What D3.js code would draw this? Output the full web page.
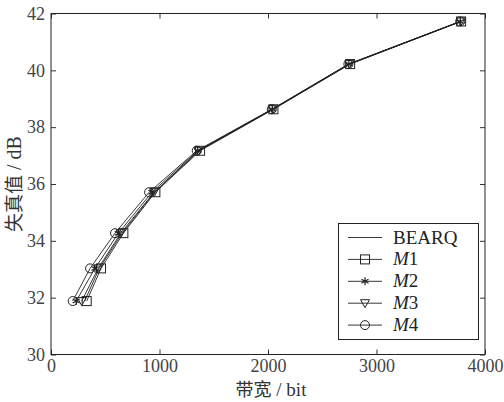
<!DOCTYPE html>
<html lang="zh">
<head>
    <meta charset="UTF-8">
    <title>失真值</title>
    <script src="https://cdnjs.cloudflare.com/ajax/libs/d3/7.8.5/d3.min.js"></script>
    <style type="text/css">
        body { margin: 0; background: #fff; }
        svg text { font-family: "Liberation Serif", "DejaVu Serif", serif; }
        .tick text { fill: #444; }
        .cjk { font-family: "Noto Sans CJK SC", sans-serif; }
    </style>
</head>
<body>
<div class="container"></div>
</body>
<script>
    const xTicks = [0, 1000, 2000, 3000, 4000];
    const yTicks = [30, 32, 34, 36, 38, 40, 42];
    const distortion = [31.88, 33.03, 34.27, 35.71, 37.17, 38.63, 40.22, 41.72];

    const bearq = [310, 445, 655, 955, 1365, 2045, 2750, 3776];
    const m1 = [329, 461, 667, 962, 1374, 2050, 2757, 3780];
    const m2 = [232, 405, 621, 931, 1352, 2040, 2745, 3773];
    const m3 = [283, 435, 643, 950, 1360, 2043, 2750, 3776];
    const m4 = [200, 360, 590, 904, 1343, 2035, 2741, 3771];

    const seriesNames = ['BEARQ', 'M1', 'M2', 'M3', 'M4'];
    const seriesX = [bearq, m1, m2, m3, m4];
    const markers = ['none', 'square', 'star', 'triangle', 'circle'];

    const width = 504, height = 402;
    const plotL = 51, plotR = 485, plotT = 13.5, plotB = 354.5;

    const svg = d3.select('.container')
        .append('svg')
        .attr('width', width)
        .attr('height', height);

    const xScale = d3.scaleLinear().domain([0, 4000]).range([plotL, plotR]);
    const yScale = d3.scaleLinear().domain([30, 42]).range([plotB, plotT]);

    // axes, ticks pointing inward on all four sides
    const axisStyle = g => {
        g.attr('font-family', null).attr('font-size', 18);
        g.select('.domain').remove();
        g.selectAll('.tick line').attr('stroke', '#333');
    };

    svg.append('g')
        .attr('transform', `translate(0,${plotB})`)
        .call(d3.axisBottom(xScale).tickValues(xTicks).tickFormat(d3.format('d'))
            .tickSizeInner(-5).tickSizeOuter(0).tickPadding(5))
        .call(axisStyle);
    svg.append('g')
        .attr('transform', `translate(0,${plotT})`)
        .call(d3.axisTop(xScale).tickValues(xTicks).tickSizeInner(-5).tickSizeOuter(0).tickFormat(''))
        .call(axisStyle);
    svg.append('g')
        .attr('transform', `translate(${plotL},0)`)
        .call(d3.axisLeft(yScale).tickValues(yTicks).tickSizeInner(-5).tickSizeOuter(0).tickPadding(6))
        .call(axisStyle);
    svg.append('g')
        .attr('transform', `translate(${plotR},0)`)
        .call(d3.axisRight(yScale).tickValues(yTicks).tickSizeInner(-5).tickSizeOuter(0).tickFormat(''))
        .call(axisStyle);

    svg.append('rect')
        .attr('x', plotL).attr('y', plotT)
        .attr('width', plotR - plotL).attr('height', plotB - plotT)
        .attr('fill', 'none').attr('stroke', '#222').attr('stroke-width', 1);

    const line = d3.line()
        .x(d => xScale(d[0]))
        .y(d => yScale(d[1]));

    function drawMarker(g, type, cx, cy) {
        if (type === 'square') {
            g.append('rect').attr('x', cx - 4.5).attr('y', cy - 4.5)
                .attr('width', 9).attr('height', 9)
                .attr('fill', 'none').attr('stroke', '#222');
        } else if (type === 'circle') {
            g.append('circle').attr('cx', cx).attr('cy', cy).attr('r', 4.5)
                .attr('fill', 'none').attr('stroke', '#222');
        } else if (type === 'triangle') {
            g.append('path')
                .attr('d', `M${cx - 4.5},${cy - 3.5}L${cx + 4.5},${cy - 3.5}L${cx},${cy + 4.5}Z`)
                .attr('fill', 'none').attr('stroke', '#222');
        } else if (type === 'star') {
            g.append('path')
                .attr('d', `M${cx},${cy - 4}V${cy + 4}M${cx - 3.5},${cy - 2}L${cx + 3.5},${cy + 2}M${cx - 3.5},${cy + 2}L${cx + 3.5},${cy - 2}`)
                .attr('fill', 'none').attr('stroke', '#222').attr('stroke-width', 1.2);
        }
    }

    const plot = svg.append('g');
    seriesX.forEach((xs, i) => {
        const pts = xs.map((x, j) => [x, distortion[j]]);
        plot.append('path')
            .attr('fill', 'none')
            .attr('stroke', '#222')
            .attr('stroke-width', 0.9)
            .attr('d', line(pts));
        pts.forEach(p => drawMarker(plot, markers[i], xScale(p[0]), yScale(p[1])));
    });

    // legend
    const lg = svg.append('g');
    lg.append('rect')
        .attr('x', 338.5).attr('y', 223.5)
        .attr('width', 140).attr('height', 116)
        .attr('fill', '#fff').attr('stroke', '#222');
    seriesNames.forEach((name, i) => {
        const ly = 237.5 + i * 21.9;
        lg.append('line')
            .attr('x1', 348).attr('x2', 382)
            .attr('y1', ly).attr('y2', ly)
            .attr('stroke', '#222').attr('stroke-width', 0.9);
        drawMarker(lg, markers[i], 365, ly);
        const t = lg.append('text')
            .attr('x', 393).attr('y', ly + 6)
            .attr('font-size', 19)
            .attr('fill', '#222');
        if (i === 0) {
            t.text(name);
        } else {
            t.append('tspan').attr('font-style', 'italic').text(name[0]);
            t.append('tspan').text(name.slice(1));
        }
    });

    // axis titles
    const xt = svg.append('text')
        .attr('x', 271).attr('y', 396)
        .attr('text-anchor', 'middle')
        .attr('font-size', 19)
        .attr('fill', '#333');
    xt.append('tspan').attr('class', 'cjk').attr('font-size', 18).text('带宽');
    xt.append('tspan').text(' / bit');

    const yt = svg.append('text')
        .attr('transform', 'translate(21,184) rotate(-90)')
        .attr('text-anchor', 'middle')
        .attr('font-size', 20)
        .attr('fill', '#333');
    yt.append('tspan').attr('class', 'cjk').attr('font-size', 19).text('失真值');
    yt.append('tspan').text(' / dB');
</script>
</html>
